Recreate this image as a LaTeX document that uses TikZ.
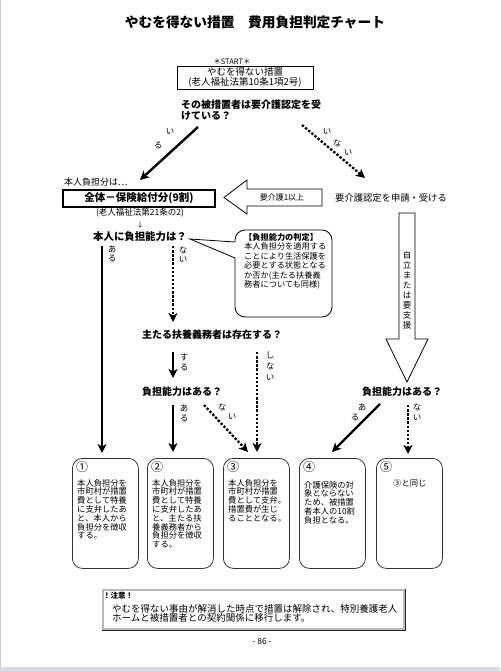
\documentclass[tikz,border=0pt]{standalone}
\usepackage{fontspec}
\setmainfont{Noto Sans CJK JP}
\usetikzlibrary{arrows.meta,positioning}

\tikzset{
  solidarr/.style={line width=2.4pt, -{Stealth[length=9pt,width=9pt,inset=2.5pt]}},
  dotarr/.style={line width=2.3pt, dash pattern=on 2.4pt off 1.7pt, -{Stealth[length=9pt,width=9pt,inset=2.5pt]}},
  qtext/.style={font=\fontsize{10}{10.5}\selectfont\bfseries, inner sep=0pt, anchor=west, align=left},
  plaintext/.style={font=\fontsize{9}{10}\selectfont, inner sep=0pt},
  vlabel/.style={font=\fontsize{8.5}{10}\selectfont, align=center, inner sep=0pt},
  hollow/.style={draw, line width=0.8pt, fill=white},
  casebox/.style={draw=black!80, line width=0.8pt, rounded corners=10pt, minimum width=66pt, minimum height=110pt, anchor=north west, inner sep=0pt},
  casetext/.style={font=\fontsize{8.3}{8.8}\selectfont, align=left, inner sep=0pt, anchor=north west},
  casenum/.style={font=\fontsize{12}{12}\selectfont, inner sep=0pt, anchor=north west},
}

\begin{document}
\begin{tikzpicture}[x=1pt, y=-1pt]

\useasboundingbox (0,0) rectangle (500,671);
% page edges
\fill[white] (0,0) rectangle (500,671);
\fill[blue!15!gray!25] (0,667) rectangle (500,671);
\draw[gray!45, line width=1pt] (0.5,0) -- (0.5,667);

% title and start
\node[font=\fontsize{13.7}{14}\selectfont\bfseries] (title) at (255,22) {やむを得ない措置　費用負担判定チャート};
\node[font=\fontsize{7.5}{8}\selectfont, inner sep=0pt] (start) at (232,62) {＊START＊};
\node[draw, line width=0.9pt, minimum width=136pt, minimum height=23pt, inner sep=0pt, align=center, font=\fontsize{9.5}{10}\selectfont] (startbox) at (245,77.5) {やむを得ない措置\\(老人福祉法第10条1項2号)};
\node[qtext] (q1) at (181,110) {その被措置者は要介護認定を受\\けている？};

% first branch: iru / inai
\coordinate (iruS) at (198,127);
\coordinate (iruE) at (140,180);
\draw[solidarr] (iruS) -- (iruE);
\node[vlabel] (iru1) at (170,132) {い};
\node[vlabel] (iru2) at (158,145) {る};

\coordinate (inaiS) at (302,125);
\coordinate (inaiE) at (365,178);
\draw[dotarr] (inaiS) -- (inaiE);
\node[vlabel] (inai1) at (327,132) {い};
\node[vlabel] (inai2) at (337,143) {な};
\node[vlabel] (inai3) at (348,153) {い};

% left column: hoken kyufu
\node[plaintext, anchor=west] (futanlbl) at (64,182) {本人負担分は…};
\node[draw, line width=2pt, minimum width=152pt, minimum height=17pt, inner sep=0pt, font=\fontsize{10.5}{11}\selectfont\bfseries] (zentai) at (139,198.5) {全体－保険給付分(9割)};
\node[font=\fontsize{8.5}{9}\selectfont, inner sep=0pt] (hou21) at (140,213) {(老人福祉法第21条の2)};
\node[font=\fontsize{7}{7}\selectfont, inner sep=0pt] (smalldown) at (140,225) {↓};
\node[qtext, font=\fontsize{10.4}{11}\selectfont\bfseries] (q2) at (93,237) {本人に負担能力は？};

% right column: nintei
\node[plaintext, anchor=west, font=\fontsize{9.3}{10}\selectfont] (shinsei) at (335,198) {要介護認定を申請・受ける};
\draw[hollow] (322,189) -- (247,189) -- (247,180) -- (224,197.5) -- (247,214) -- (247,206) -- (322,206) -- cycle;
\node[font=\fontsize{8}{8}\selectfont, inner sep=0pt] (kaigo1) at (282,197.5) {要介護1以上};
\draw[hollow] (399,213) -- (415,213) -- (415,339) -- (428,339) -- (407,382) -- (386,339) -- (399,339) -- cycle;
\node[vlabel, font=\fontsize{8.5}{10}\selectfont] (jiritsu) at (407,290) {自\\立\\ま\\た\\は\\要\\支\\援};

% callout: futan noryoku no hantei
\node[draw, line width=0.8pt, rounded corners=10pt, minimum width=97pt, minimum height=87pt, inner sep=0pt] (hantei) at (283.5,273.5) {};
\coordinate (hanteitip) at (190,239);
\fill[white] (236,242) -- (hanteitip) -- (236,258) -- cycle;
\draw[line width=0.8pt] (235,242) -- (hanteitip) -- (235,258);
\node[anchor=north west, align=left, inner sep=0pt, font=\fontsize{8.2}{9.5}\selectfont] (hanteitxt) at (244,233) {\textbf{【負担能力の判定】}\\本人負担分を適用する\\ことにより生活保護を\\必要とする状態となる\\か否か(主たる扶養義\\務者についても同様)};

% honnin ni futan noryoku
\coordinate (aru1S) at (102,246);
\coordinate (aru1E) at (102,453);
\draw[solidarr] (aru1S) -- (aru1E);
\node[vlabel, font=\fontsize{8.5}{9}\selectfont] (aru1) at (112,254) {あ\\る};

\coordinate (nai1S) at (173,246);
\coordinate (nai1E) at (173,322);
\draw[dotarr] (nai1S) -- (nai1E);
\node[vlabel, font=\fontsize{8.5}{9}\selectfont] (nai1) at (183,255) {な\\い};

% fuyo gimusha
\node[qtext] (q3) at (142,335) {主たる扶養義務者は存在する？};
\coordinate (suruS) at (173,352);
\coordinate (suruE) at (173,378);
\draw[solidarr] (suruS) -- (suruE);
\node[vlabel] (suru) at (184,362) {す\\る};

\coordinate (shinaiS) at (257,352);
\coordinate (shinaiE) at (257,452);
\draw[dotarr] (shinaiS) -- (shinaiE);
\node[vlabel, font=\fontsize{8.5}{11}\selectfont] (shinai) at (270,366) {し\\な\\い};

\node[qtext] (q4) at (142,392) {負担能力はある？};
\coordinate (aru2S) at (173,405);
\coordinate (aru2E) at (173,452);
\draw[solidarr] (aru2S) -- (aru2E);
\node[vlabel] (aru2) at (184,413) {あ\\る};

\coordinate (nai2S) at (204,405);
\coordinate (nai2E) at (248,452);
\draw[dotarr] (nai2S) -- (nai2E);
\node[vlabel] (nai2a) at (222,407) {な};
\node[vlabel] (nai2b) at (232,417) {い};

% right: futan noryoku
\node[qtext] (q5) at (362,392) {負担能力はある？};
\coordinate (aru3S) at (380,404);
\coordinate (aru3E) at (332,452);
\draw[solidarr] (aru3S) -- (aru3E);
\node[vlabel] (aru3a) at (362,407) {あ};
\node[vlabel] (aru3b) at (355,417) {る};

\coordinate (nai3S) at (408,405);
\coordinate (nai3E) at (408,454);
\draw[dotarr] (nai3S) -- (nai3E);
\node[vlabel] (nai3) at (417,412) {な\\い};

% result boxes
\node[casebox] (case1) at (72,458) {};
\node[casebox] (case2) at (147,458) {};
\node[casebox] (case3) at (223,458) {};
\node[casebox] (case4) at (299,458) {};
\node[casebox] (case5) at (376,458) {};

\node[casenum, below right=3pt and 4pt of case1.north west] (num1) {①};
\node[casenum, below right=3pt and 4pt of case2.north west] (num2) {②};
\node[casenum, below right=3pt and 4pt of case3.north west] (num3) {③};
\node[casenum, below right=3pt and 4pt of case4.north west] (num4) {④};
\node[casenum, below right=3pt and 4pt of case5.north west] (num5) {⑤};

\node[casetext, below right=21pt and 5pt of case1.north west] (txt1) {本人負担分を\\市町村が措置\\費として特養\\に支弁したあ\\と、本人から\\負担分を徴収\\する。};
\node[casetext, below right=21pt and 5pt of case2.north west] (txt2) {本人負担分を\\市町村が措置\\費として特養\\に支弁したあ\\と、主たる扶\\養義務者から\\負担分を徴収\\する。};
\node[casetext, below right=21pt and 5pt of case3.north west] (txt3) {本人負担分を\\市町村が措置\\費として支弁。\\措置費が生じ\\ることとなる。};
\node[casetext, below right=23pt and 5pt of case4.north west] (txt4) {介護保険の対\\象とならない\\ため、被措置\\者本人の10割\\負担となる。};
\node[casetext, below right=21pt and 17pt of case5.north west] (txt5) {③と同じ};

% note
\node[draw=black!85, line width=0.7pt, minimum width=303pt, minimum height=41pt, inner sep=0pt] (note) at (253.5,609.5) {};
\draw[gray!55, line width=1.4pt] ([shift={(1.5pt,-1.5pt)}]note.north west) rectangle ([shift={(-1.5pt,1.5pt)}]note.south east);
\node[anchor=west, inner sep=0pt, font=\fontsize{7.5}{8}\selectfont\bfseries] (notetitle) at (103,596) {！注意！};
\node[anchor=north west, align=left, inner sep=0pt, font=\fontsize{9.5}{9.5}\selectfont] (notetxt) at (112,604) {やむを得ない事由が解消した時点で措置は解除され、特別養護老人\\ホームと被措置者との契約関係に移行します。};

\node[font=\fontsize{8.5}{9}\selectfont, inner sep=0pt] (page) at (262,641) {- 86 -};

\end{tikzpicture}
\end{document}
